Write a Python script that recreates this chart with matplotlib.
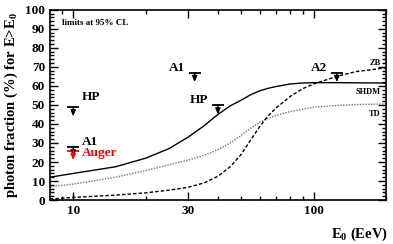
import matplotlib
matplotlib.use("Agg")
import matplotlib.pyplot as plt
from matplotlib.ticker import FixedLocator, NullFormatter, MultipleLocator

plt.rcParams['font.family'] = ['Liberation Serif', 'DejaVu Serif']
plt.rcParams['font.weight'] = 'bold'
plt.rcParams['mathtext.default'] = 'regular'

# model curves
energy = [8, 10, 15, 20, 25, 30, 35, 40, 45, 50, 55, 60, 65, 70, 80, 90, 100, 125, 150, 200]
shdm = [12, 14, 17.5, 22, 27, 33, 39, 45, 49.5, 52.5, 55.5, 57.5, 58.8, 59.7, 61, 61.5, 61.7, 61.7, 61.6, 61.5]
td = [7, 8.4, 12, 15.5, 18.5, 21, 23.5, 26.5, 30, 34, 38, 41, 43, 44.5, 46.5, 47.8, 48.8, 49.7, 50.2, 50.5]
zb = [0.5, 1.4, 2.6, 3.8, 5.2, 6.7, 9, 12.5, 17.5, 24, 32, 39, 44.5, 48.5, 54.5, 58.5, 61, 65, 67.5, 69.5]

# upper limits
lim_names = ["HP", "A1", "HP", "A2", "A1", "Auger"]
lim_e = [10, 32, 40, 125, 10, 10]
lim_val = [49, 67, 50, 67, 28, 26]
lim_colors = ["black", "black", "black", "black", "black", "red"]
lim_label_pos = ["right", "left", "left", "left", "right", "right"]
lim_label_dy = [5, 2.5, 2.5, 2.5, 2.5, -1.5]

fig = plt.figure(figsize=(3.93, 2.44), dpi=100)
ax = fig.add_axes([0.127, 0.18, 0.855, 0.78])

ax.plot(energy, shdm, color="black", lw=1.0, linestyle="-")
ax.plot(energy, td, color="0.45", lw=1.0, linestyle=(0, (1, 1)))
ax.plot(energy, zb, color="black", lw=1.0, linestyle=(0, (2.5, 1.5)))

ax.set_xscale("log")
ax.set_xlim(8, 200)
ax.set_ylim(0, 100)

for name, e, v, c, pos, dy in zip(lim_names, lim_e, lim_val, lim_colors, lim_label_pos, lim_label_dy):
    ax.plot([e], [v], marker="_", markersize=9, mew=1.3, color=c)
    ax.annotate("", xy=(e, v - 5), xytext=(e, v),
                arrowprops=dict(arrowstyle="-|>,head_width=0.15,head_length=0.35",
                                color=c, lw=1.0, shrinkA=0, shrinkB=0))
    if pos == "right":
        ax.text(e * 1.09, v + dy, name, color=c, fontsize=9.5, fontweight="bold",
                ha="left", va="center")
    else:
        ax.text(e * 0.91, v + dy, name, color=c, fontsize=9.5, fontweight="bold",
                ha="right", va="center")

ax.text(9.0, 93, "limits at 95% CL", fontsize=6.5, fontweight="bold", ha="left", va="center")
ax.text(190, 72, "ZB", fontsize=6, ha="right", va="center")
ax.text(190, 57, "SHDM", fontsize=6, ha="right", va="center")
ax.text(190, 45, "TD", fontsize=6, ha="right", va="center")

ax.xaxis.set_major_locator(FixedLocator([10, 100]))
ax.xaxis.set_minor_locator(FixedLocator([9, 20, 30, 40, 50, 60, 70, 80, 90, 200]))
ax.set_xticks([10, 30, 100])
ax.set_xticklabels(["10", "30", "100"])
ax.xaxis.set_minor_formatter(NullFormatter())
ax.yaxis.set_major_locator(MultipleLocator(10))
ax.yaxis.set_minor_locator(MultipleLocator(2))

ax.tick_params(which="both", direction="in", top=True, right=True, width=1.0)
ax.tick_params(which="major", length=6, labelsize=9.5)
ax.tick_params(which="minor", length=3)
for s in ax.spines.values():
    s.set_linewidth(1.2)

ax.set_ylabel("photon fraction (%) for E>E$_0$", fontsize=10.5, fontweight="bold")
ax.set_xlabel("E$_0$ (EeV)", fontsize=10.5, fontweight="bold")
ax.xaxis.set_label_coords(0.92, -0.135)

fig.savefig("out.png", dpi=100)
